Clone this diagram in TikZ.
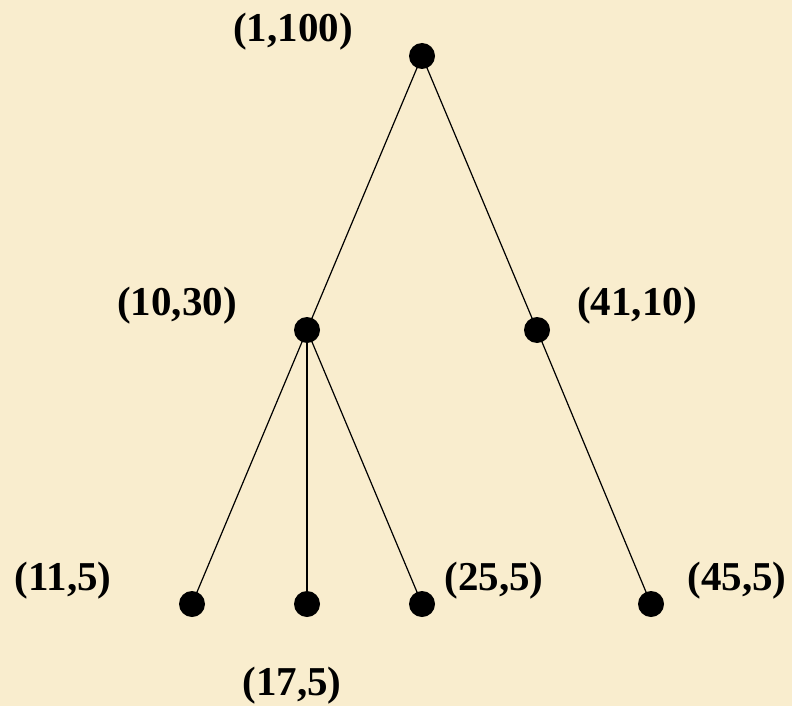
\documentclass[tikz,border=0pt]{standalone}
\usepackage{fontspec}
\setmainfont{Liberation Serif}
\definecolor{bg}{HTML}{F9EDCE}
\begin{document}
\begin{tikzpicture}[x=1pt,y=-1pt,
  dot/.style={circle,fill=black,inner sep=0pt,minimum size=26pt},
  lbl/.style={anchor=base,inner sep=0pt,font=\fontsize{41}{45}\selectfont\bfseries},
  edge/.style={line width=1.2pt,black}]
\fill[bg] (0,0) rectangle (792,706);
\useasboundingbox (0,0) rectangle (792,706);
\node[dot] (r) at (422,56) {};
\node[dot] (a) at (307,330) {};
\node[dot] (b) at (537,330) {};
\node[dot] (c) at (192,604) {};
\node[dot] (d) at (307,604) {};
\node[dot] (e) at (422,604) {};
\node[dot] (f) at (651,604) {};
\draw[edge] (r.center) -- (a.center);
\draw[edge] (r.center) -- (b.center);
\draw[edge] (a.center) -- (c.center);
\draw[edge] (a.center) -- (d.center);
\draw[edge] (a.center) -- (e.center);
\draw[edge] (b.center) -- (f.center);
\node[lbl] (lr) at (293,42) {(1,100)};
\node[lbl] (la) at (177,315) {(10,30)};
\node[lbl] (lb) at (637,315) {(41,10)};
\node[lbl] (lc) at (63,590) {(11,5)};
\node[lbl] (le) at (494,590) {(25,5)};
\node[lbl] (lf) at (737,590) {(45,5)};
\node[lbl] (ld) at (292,695) {(17,5)};
\end{tikzpicture}
\end{document}
